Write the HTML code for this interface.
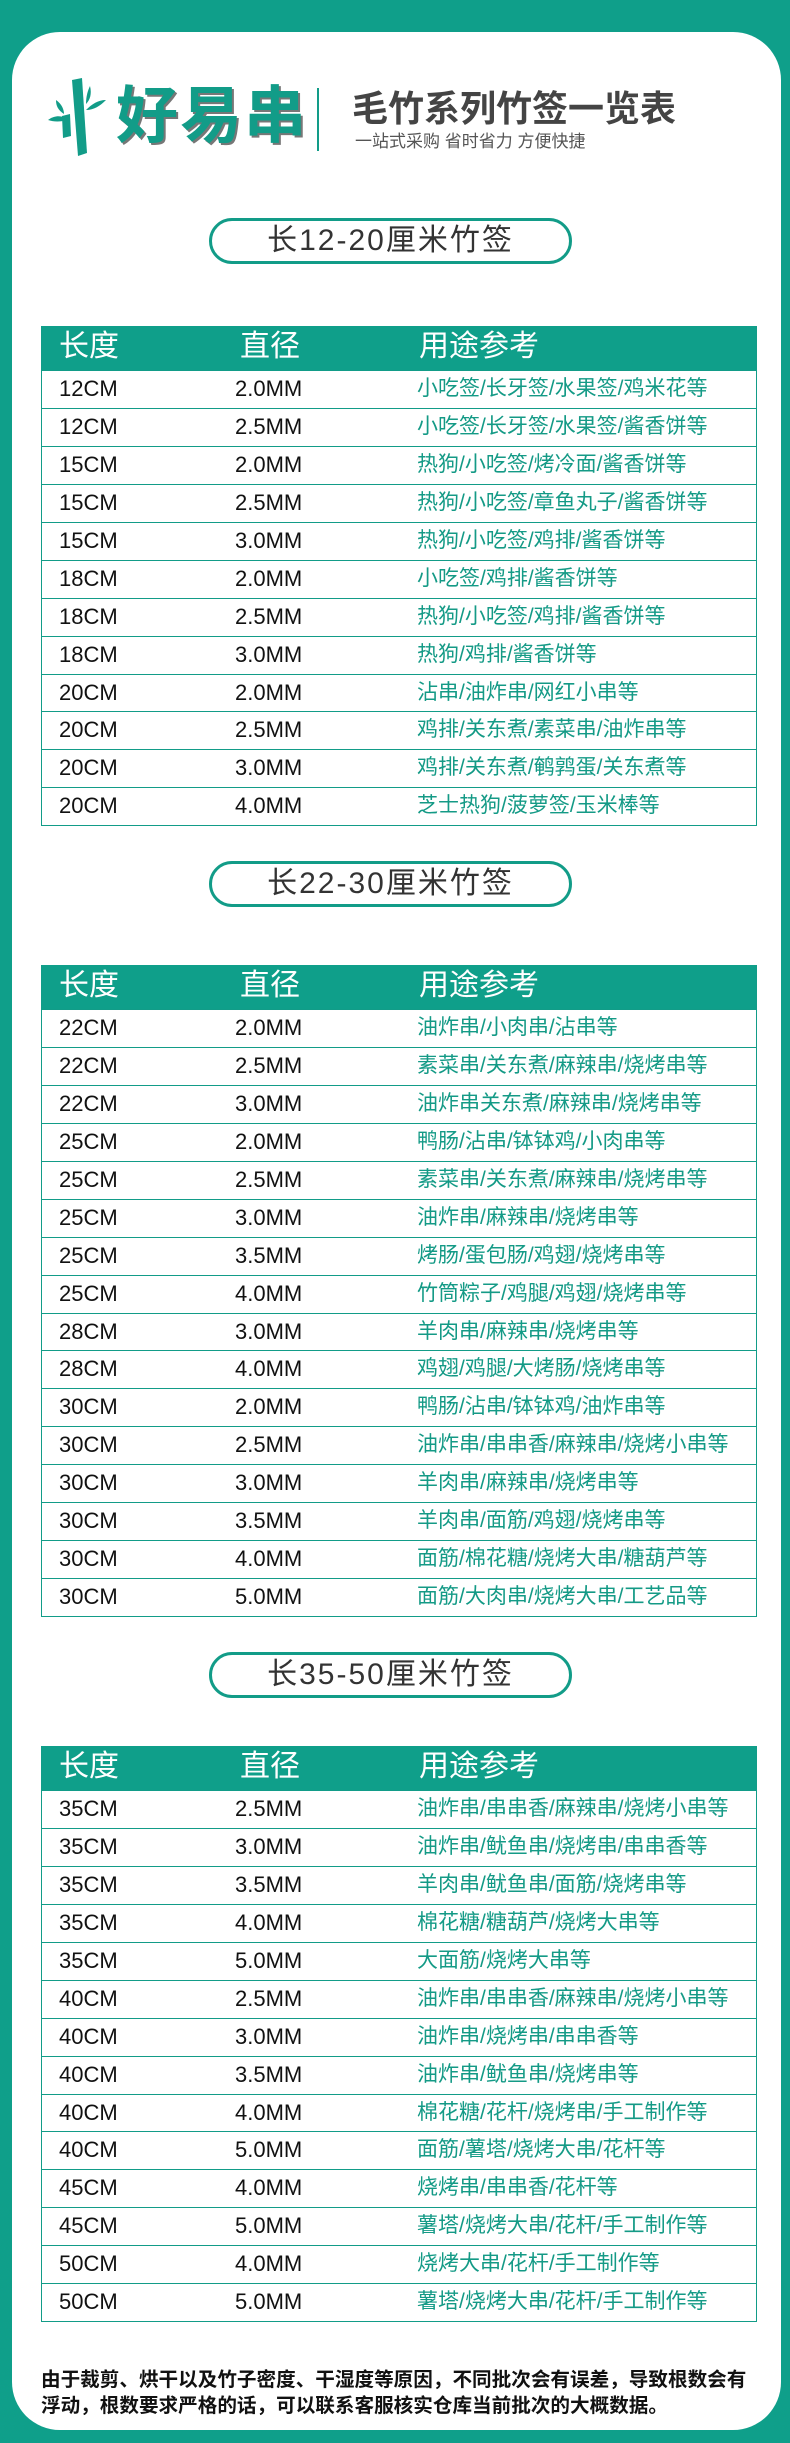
<!DOCTYPE html>
<html><head><meta charset="utf-8">
<style>
*{margin:0;padding:0;box-sizing:border-box}
body{width:790px;height:2443px;background:#0f9f8a;position:relative;overflow:hidden;font-family:"Liberation Sans","Noto Sans CJK SC",sans-serif}
.card{position:absolute;left:12px;top:32px;width:769px;height:2398px;background:#fff;border-radius:48px}
.abs{position:absolute}
.pill{position:absolute;left:209px;width:363px;height:46px;border:3px solid #129c88;border-radius:23px;text-align:center;font-size:30px;line-height:40px;color:#333;letter-spacing:2px;font-family:"Liberation Sans","Noto Sans CJK SC",sans-serif}
.tbl{position:absolute;left:41px;width:716px;border:1.5px solid #129c88;border-top:none}
.hd{height:44px;background:#0f9f8a;color:#fff;font-size:30px;position:relative}
.hd span{position:absolute;top:3px;line-height:36px}
.row{height:37.95px;border-top:1.5px solid #129c88;position:relative;font-size:21px;line-height:36px}
.row span{position:absolute;top:0}
.c1{left:17px}.c2{left:193px}.c3{left:375px;color:#149a86}
.num{font-family:"Liberation Sans Narrow","Liberation Sans",sans-serif;color:#111;font-size:22px}
.note{position:absolute;left:41px;top:2367px;width:740px;font-size:19.6px;line-height:26px;color:#111;font-weight:bold;white-space:nowrap}
</style></head><body>
<div class="card"></div>
<svg class="abs" style="left:46px;top:78px" width="62" height="78" viewBox="0 0 62 78">
<polygon points="26,2 36,0 41,75 32,78" fill="#129c88"/>
<polygon points="16,38 24,36 25,58 17,60" fill="#129c88"/>
<path d="M2,42 C10,36 18,38 22,42 C14,44 8,44 2,42Z" fill="#129c88"/>
<path d="M10,22 C16,26 18,32 18,36 C12,32 10,28 10,22Z" fill="#129c88"/>
<path d="M44,8 C46,16 44,22 40,26 C40,18 42,12 44,8Z" fill="#129c88"/>
<path d="M60,22 C54,28 48,32 40,32 C46,26 52,22 60,22Z" fill="#129c88"/>
</svg>
<div class="abs" style="left:116px;top:82px;font-size:62px;font-weight:bold;color:#129c88;line-height:70px;letter-spacing:2px;text-shadow:2px 2px 0 #777">好易串</div>
<div class="abs" style="left:317px;top:88px;width:2px;height:63px;background:#129c88"></div>
<div class="abs" style="left:352px;top:88px;font-size:36px;font-weight:bold;color:#444;line-height:42px">毛竹系列竹签一览表</div>
<div class="abs" style="left:355px;top:131px;font-size:17px;color:#555;line-height:22px">一站式采购 省时省力 方便快捷</div>

<div class="pill" style="top:218px">长12-20厘米竹签</div>
<div class="tbl" style="top:326px">
<div class="hd"><span style="left:17px">长度</span><span style="left:198px">直径</span><span style="left:377px">用途参考</span></div>
<div class="row"><span class="c1 num">12CM</span><span class="c2 num">2.0MM</span><span class="c3">小吃签/长牙签/水果签/鸡米花等</span></div>
<div class="row"><span class="c1 num">12CM</span><span class="c2 num">2.5MM</span><span class="c3">小吃签/长牙签/水果签/酱香饼等</span></div>
<div class="row"><span class="c1 num">15CM</span><span class="c2 num">2.0MM</span><span class="c3">热狗/小吃签/烤冷面/酱香饼等</span></div>
<div class="row"><span class="c1 num">15CM</span><span class="c2 num">2.5MM</span><span class="c3">热狗/小吃签/章鱼丸子/酱香饼等</span></div>
<div class="row"><span class="c1 num">15CM</span><span class="c2 num">3.0MM</span><span class="c3">热狗/小吃签/鸡排/酱香饼等</span></div>
<div class="row"><span class="c1 num">18CM</span><span class="c2 num">2.0MM</span><span class="c3">小吃签/鸡排/酱香饼等</span></div>
<div class="row"><span class="c1 num">18CM</span><span class="c2 num">2.5MM</span><span class="c3">热狗/小吃签/鸡排/酱香饼等</span></div>
<div class="row"><span class="c1 num">18CM</span><span class="c2 num">3.0MM</span><span class="c3">热狗/鸡排/酱香饼等</span></div>
<div class="row"><span class="c1 num">20CM</span><span class="c2 num">2.0MM</span><span class="c3">沾串/油炸串/网红小串等</span></div>
<div class="row"><span class="c1 num">20CM</span><span class="c2 num">2.5MM</span><span class="c3">鸡排/关东煮/素菜串/油炸串等</span></div>
<div class="row"><span class="c1 num">20CM</span><span class="c2 num">3.0MM</span><span class="c3">鸡排/关东煮/鹌鹑蛋/关东煮等</span></div>
<div class="row"><span class="c1 num">20CM</span><span class="c2 num">4.0MM</span><span class="c3">芝士热狗/菠萝签/玉米棒等</span></div>
</div>

<div class="pill" style="top:861px">长22-30厘米竹签</div>
<div class="tbl" style="top:965px">
<div class="hd"><span style="left:17px">长度</span><span style="left:198px">直径</span><span style="left:377px">用途参考</span></div>
<div class="row"><span class="c1 num">22CM</span><span class="c2 num">2.0MM</span><span class="c3">油炸串/小肉串/沾串等</span></div>
<div class="row"><span class="c1 num">22CM</span><span class="c2 num">2.5MM</span><span class="c3">素菜串/关东煮/麻辣串/烧烤串等</span></div>
<div class="row"><span class="c1 num">22CM</span><span class="c2 num">3.0MM</span><span class="c3">油炸串关东煮/麻辣串/烧烤串等</span></div>
<div class="row"><span class="c1 num">25CM</span><span class="c2 num">2.0MM</span><span class="c3">鸭肠/沾串/钵钵鸡/小肉串等</span></div>
<div class="row"><span class="c1 num">25CM</span><span class="c2 num">2.5MM</span><span class="c3">素菜串/关东煮/麻辣串/烧烤串等</span></div>
<div class="row"><span class="c1 num">25CM</span><span class="c2 num">3.0MM</span><span class="c3">油炸串/麻辣串/烧烤串等</span></div>
<div class="row"><span class="c1 num">25CM</span><span class="c2 num">3.5MM</span><span class="c3">烤肠/蛋包肠/鸡翅/烧烤串等</span></div>
<div class="row"><span class="c1 num">25CM</span><span class="c2 num">4.0MM</span><span class="c3">竹筒粽子/鸡腿/鸡翅/烧烤串等</span></div>
<div class="row"><span class="c1 num">28CM</span><span class="c2 num">3.0MM</span><span class="c3">羊肉串/麻辣串/烧烤串等</span></div>
<div class="row"><span class="c1 num">28CM</span><span class="c2 num">4.0MM</span><span class="c3">鸡翅/鸡腿/大烤肠/烧烤串等</span></div>
<div class="row"><span class="c1 num">30CM</span><span class="c2 num">2.0MM</span><span class="c3">鸭肠/沾串/钵钵鸡/油炸串等</span></div>
<div class="row"><span class="c1 num">30CM</span><span class="c2 num">2.5MM</span><span class="c3">油炸串/串串香/麻辣串/烧烤小串等</span></div>
<div class="row"><span class="c1 num">30CM</span><span class="c2 num">3.0MM</span><span class="c3">羊肉串/麻辣串/烧烤串等</span></div>
<div class="row"><span class="c1 num">30CM</span><span class="c2 num">3.5MM</span><span class="c3">羊肉串/面筋/鸡翅/烧烤串等</span></div>
<div class="row"><span class="c1 num">30CM</span><span class="c2 num">4.0MM</span><span class="c3">面筋/棉花糖/烧烤大串/糖葫芦等</span></div>
<div class="row"><span class="c1 num">30CM</span><span class="c2 num">5.0MM</span><span class="c3">面筋/大肉串/烧烤大串/工艺品等</span></div>
</div>

<div class="pill" style="top:1652px">长35-50厘米竹签</div>
<div class="tbl" style="top:1746px">
<div class="hd"><span style="left:17px">长度</span><span style="left:198px">直径</span><span style="left:377px">用途参考</span></div>
<div class="row"><span class="c1 num">35CM</span><span class="c2 num">2.5MM</span><span class="c3">油炸串/串串香/麻辣串/烧烤小串等</span></div>
<div class="row"><span class="c1 num">35CM</span><span class="c2 num">3.0MM</span><span class="c3">油炸串/鱿鱼串/烧烤串/串串香等</span></div>
<div class="row"><span class="c1 num">35CM</span><span class="c2 num">3.5MM</span><span class="c3">羊肉串/鱿鱼串/面筋/烧烤串等</span></div>
<div class="row"><span class="c1 num">35CM</span><span class="c2 num">4.0MM</span><span class="c3">棉花糖/糖葫芦/烧烤大串等</span></div>
<div class="row"><span class="c1 num">35CM</span><span class="c2 num">5.0MM</span><span class="c3">大面筋/烧烤大串等</span></div>
<div class="row"><span class="c1 num">40CM</span><span class="c2 num">2.5MM</span><span class="c3">油炸串/串串香/麻辣串/烧烤小串等</span></div>
<div class="row"><span class="c1 num">40CM</span><span class="c2 num">3.0MM</span><span class="c3">油炸串/烧烤串/串串香等</span></div>
<div class="row"><span class="c1 num">40CM</span><span class="c2 num">3.5MM</span><span class="c3">油炸串/鱿鱼串/烧烤串等</span></div>
<div class="row"><span class="c1 num">40CM</span><span class="c2 num">4.0MM</span><span class="c3">棉花糖/花杆/烧烤串/手工制作等</span></div>
<div class="row"><span class="c1 num">40CM</span><span class="c2 num">5.0MM</span><span class="c3">面筋/薯塔/烧烤大串/花杆等</span></div>
<div class="row"><span class="c1 num">45CM</span><span class="c2 num">4.0MM</span><span class="c3">烧烤串/串串香/花杆等</span></div>
<div class="row"><span class="c1 num">45CM</span><span class="c2 num">5.0MM</span><span class="c3">薯塔/烧烤大串/花杆/手工制作等</span></div>
<div class="row"><span class="c1 num">50CM</span><span class="c2 num">4.0MM</span><span class="c3">烧烤大串/花杆/手工制作等</span></div>
<div class="row"><span class="c1 num">50CM</span><span class="c2 num">5.0MM</span><span class="c3">薯塔/烧烤大串/花杆/手工制作等</span></div>
</div>

<div class="note">由于裁剪、烘干以及竹子密度、干湿度等原因，不同批次会有误差，导致根数会有<br>浮动，根数要求严格的话，可以联系客服核实仓库当前批次的大概数据。</div>
</body></html>
